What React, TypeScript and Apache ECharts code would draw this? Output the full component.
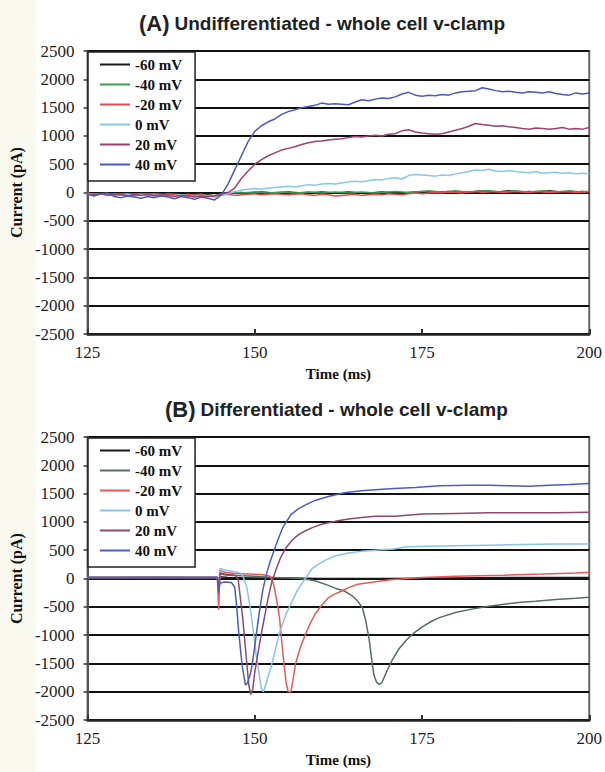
import React, { useEffect, useRef } from "react";
import * as echarts from "echarts";

const seriesNames = ["-60 mV", "-40 mV", "-20 mV", "0 mV", "20 mV", "40 mV"];

// Panel A: sampled every 1 ms from 125 to 200 ms
const timeA: number[] = Array.from({ length: 76 }, (_, i) => 125 + i);

const aMinus60 = [
  -20, -30, -10, -20, -30, -40, -30, -20, -30, -40,
  -30, -20, -30, -40, -50, -30, -40, -50, -40, -60,
  -40, -20, -10, 0, -10, 0, 10, 0, -10, 0,
  10, 0, -10, 0, 0, 10, 0, -10, 0, 10,
  0, -10, -20, 0, 10, 0, 0, -10, 0, 10,
  20, 10, 0, 10, 20, 10, 0, 10, 20, 30,
  20, 10, 20, 30, 20, 10, 20, 10, 20, 30,
  20, 10, 20, 10, 20, 10,
];
const aMinus40 = [
  -30, -20, -20, -30, -40, -30, -20, -30, -40, -30,
  -20, -30, -40, -30, -40, -50, -40, -30, -50, -50,
  -30, -10, 0, -10, 0, 10, 0, -10, 0, 10,
  0, -10, 0, 10, 0, -10, 0, 10, 0, -10,
  0, 10, 0, -10, 0, 10, 20, 10, 0, 10,
  20, 30, 20, 10, 20, 30, 20, 10, 20, 30,
  30, 20, 10, 20, 30, 20, 10, 20, 30, 20,
  10, 20, 30, 20, 10, 20,
];
const aMinus20 = [
  -10, -30, -20, -40, -20, -30, -50, -30, -20, -40,
  -30, -50, -20, -40, -60, -30, -50, -40, -60, -70,
  -40, -30, -50, -40, -30, -20, -40, -30, -20, -30,
  -40, -30, -20, -40, -50, -30, -40, -60, -50, -40,
  -30, -50, -40, -30, -40, -20, -30, -40, -20, -10,
  -20, -10, 0, -10, 10, 0, -10, 10, 20, 0,
  10, 20, 0, 10, 20, 10, 0, 20, 10, 0,
  10, 20, 10, 0, 10, 20,
];
const aZero = [
  -20, -40, -30, -20, -50, -40, -30, -60, -40, -30,
  -50, -40, -60, -50, -40, -60, -70, -50, -60, -80,
  -50, -20, 20, 40, 60, 70, 60, 80, 90, 100,
  110, 100, 120, 140, 130, 150, 160, 150, 170, 190,
  200, 190, 210, 230, 220, 250, 260, 240, 300, 320,
  310, 300, 290, 310, 300, 330, 350, 370, 400, 390,
  410, 380, 370, 390, 370, 360, 350, 370, 340, 350,
  360, 340, 350, 330, 340, 330,
];
const aPlus20 = [
  -30, -40, -20, -50, -40, -30, -60, -40, -50, -30,
  -60, -40, -50, -70, -50, -60, -80, -60, -70, -60,
  -20, 0, 80, 250, 380, 500, 580, 650, 700, 750,
  780, 810, 850, 880, 900, 910, 930, 940, 950, 970,
  990, 980, 1000, 1010, 1000, 1030, 1040, 1090, 1110, 1070,
  1050, 1040, 1030, 1040, 1070, 1100, 1130, 1170, 1220, 1200,
  1190, 1170, 1180, 1160, 1150, 1130, 1120, 1140, 1130, 1120,
  1130, 1150, 1120, 1130, 1120, 1150,
];
const aPlus40 = [
  -30, -60, -20, -10, -70, -90, -60, -80, -100, -70,
  -90, -60, -80, -110, -70, -90, -120, -80, -100, -130,
  -40, 150, 400, 650, 900, 1080, 1180, 1250, 1300, 1380,
  1430, 1460, 1500, 1520, 1540, 1580, 1560, 1570, 1560, 1550,
  1600, 1640, 1620, 1650, 1670, 1660, 1690, 1740, 1770, 1720,
  1700, 1720, 1710, 1730, 1720, 1760, 1780, 1790, 1800, 1850,
  1830, 1800, 1780, 1790, 1770, 1760, 1780, 1770, 1760, 1780,
  1750, 1730, 1720, 1760, 1740, 1760,
];

// Panel B: [time ms, current pA]
const bMinus60: number[][] = [
  [125, 20], [130, 20], [135, 25], [140, 20], [144.4, 20], [144.6, -100], [144.8, 30],
  [146, 20], [150, 10], [155, 10], [160, 0], [170, 0], [180, 10], [190, 20], [200, 20],
];
const bMinus40: number[][] = [
  [125, 20], [144.4, 20], [144.6, -150], [144.8, 80], [146, 60], [150, 40], [153, 20],
  [155, 10], [157, 0], [159, -40], [161, -120], [162, -170], [163.4, -220], [164.5, -300],
  [165.4, -400], [166.1, -520], [166.6, -750], [167.1, -1080], [167.5, -1450], [167.8, -1700],
  [168.2, -1830], [168.6, -1870], [169, -1840], [169.8, -1620], [170.5, -1450], [171.5, -1250],
  [172.7, -1080], [173.7, -970], [175.1, -850], [176.5, -750], [177.6, -690], [180, -600],
  [182.4, -540], [185, -490], [187.5, -450], [189.8, -420], [192, -400], [195, -370],
  [198, -350], [200, -330],
];
const bMinus20: number[][] = [
  [125, 20], [144.4, 20], [144.6, -550], [144.8, 150], [145.5, 110], [147, 90], [149, 80],
  [151, 70], [152.3, 40], [152.8, -100], [153.3, -400], [153.7, -700], [154.1, -1200],
  [154.4, -1550], [154.7, -1850], [155, -2000], [155.4, -2000], [155.7, -1800], [156.1, -1500],
  [156.8, -1220], [157.6, -980], [158.3, -790], [159, -630], [160, -470], [161, -340],
  [162, -270], [163, -220], [164, -160], [165.4, -100], [167.8, -60], [170.3, -20],
  [175, 20], [180, 40], [187.3, 60], [193, 80], [198, 100], [200, 110],
];
const bZero: number[][] = [
  [125, 20], [144.4, 20], [144.6, -150], [144.8, 180], [145.5, 150], [147, 120], [147.8, 100],
  [148.3, 20], [148.8, -150], [149.3, -500], [149.8, -950], [150.2, -1350], [150.6, -1650],
  [151, -1950], [151.3, -2000], [151.7, -1850], [152.5, -1530], [153.1, -1250], [153.7, -950],
  [154.7, -620], [155.7, -370], [156.4, -200], [157.2, -60], [158, 80], [158.6, 180],
  [159.5, 250], [160.5, 320], [162, 400], [164, 450], [165.9, 480], [168, 500], [170.8, 520],
  [172.7, 560], [176, 570], [180, 580], [185, 590], [190, 600], [195, 610], [200, 610],
];
const bPlus20: number[][] = [
  [125, 20], [144.4, 20], [144.6, -250], [144.8, 100], [145.5, 80], [147, 60], [147.5, 0],
  [147.8, -300], [148.2, -700], [148.6, -1230], [149.1, -1880], [149.4, -2050], [149.7, -1950],
  [150, -1650], [150.5, -1300], [151, -960], [151.5, -650], [152, -340], [152.5, -80],
  [153.2, 170], [153.9, 380], [154.7, 550], [155.6, 680], [156.6, 780], [157.5, 840],
  [158.6, 900], [160, 960], [162, 1010], [164, 1050], [166, 1080], [168, 1100], [171, 1100],
  [175, 1140], [180, 1150], [185, 1160], [190, 1160], [195, 1160], [200, 1170],
];
const bPlus40: number[][] = [
  [125, 20], [144.4, 20], [144.6, -200], [144.8, -80], [145.5, -60], [146.5, -70], [147, -150],
  [147.3, -500], [147.6, -950], [148.1, -1530], [148.6, -1880], [148.9, -1850], [149.3, -1700],
  [149.6, -1530], [150.1, -1100], [150.6, -660], [151.2, -200], [151.8, 100], [152.3, 300],
  [152.8, 470], [153.5, 700], [154.2, 905], [155.4, 1130], [156.5, 1230], [157.6, 1300],
  [159, 1380], [161, 1450], [163.4, 1515], [165.9, 1550], [168, 1570], [170.8, 1590],
  [174, 1610], [177.6, 1640], [182, 1650], [185, 1650], [188, 1640], [191, 1630],
  [194, 1650], [197, 1660], [200, 1680],
];

const colorsA = ["#1a1a1a", "#3c9a55", "#e8474d", "#86c8ec", "#a0406e", "#4c58c4"];
const colorsB = ["#1a1a1a", "#55705c", "#e8585c", "#86c4ea", "#8c4a6e", "#4a5cc8"];

const serif = "'Liberation Serif', 'Times New Roman', serif";
const sans = "'Liberation Sans', Arial, sans-serif";

function buildOption(tag: string, titleText: string, titleLeft: number, data: number[][][], colors: string[]) {
  return {
    animation: false,
    backgroundColor: "#ffffff",
    graphic: [
      {
        type: "rect",
        silent: true,
        z: -10,
        shape: { x: 0, y: 0, width: 36, height: 386 },
        style: { fill: "#f9f9ef" },
      },
    ],
    title: {
      text: `{a|${tag}} {b|${titleText}}`,
      left: titleLeft,
      top: 7,
      textStyle: {
        rich: {
          a: { fontFamily: sans, fontSize: 22, color: "#222" },
          b: { fontFamily: sans, fontSize: 19, fontWeight: "bold", color: "#222" },
        },
      },
    },
    legend: {
      orient: "vertical",
      left: 88,
      top: 52,
      icon: "rect",
      itemWidth: 30,
      itemHeight: 2,
      itemGap: 5,
      padding: [5, 13, 9, 12],
      backgroundColor: "#ffffff",
      borderColor: "#222",
      borderWidth: 1.5,
      textStyle: { fontFamily: serif, fontWeight: "bold", fontSize: 15, lineHeight: 15, color: "#111" },
      data: seriesNames,
    },
    grid: {
      left: 87,
      right: 5,
      top: 51,
      height: 290,
      show: true,
      borderColor: "#666",
      borderWidth: 2,
    },
    xAxis: {
      type: "value",
      min: 125,
      max: 200,
      interval: 25,
      name: "Time (ms)",
      nameLocation: "middle",
      nameGap: 30,
      nameTextStyle: { fontFamily: serif, fontWeight: "bold", fontSize: 15, color: "#111" },
      axisLine: { show: true, onZero: false, lineStyle: { color: "#222", width: 2.5 } },
      axisTick: { show: true, inside: true, length: 5, lineStyle: { color: "#333", width: 2 } },
      axisLabel: { margin: 10, fontFamily: serif, fontSize: 17, color: "#222", formatter: (v: number) => String(v) },
      splitLine: { show: false },
    },
    yAxis: {
      type: "value",
      min: -2500,
      max: 2500,
      interval: 500,
      name: "Current (pA)",
      nameLocation: "middle",
      nameRotate: 90,
      nameGap: 60,
      nameTextStyle: { fontFamily: serif, fontWeight: "bold", fontSize: 16, color: "#111" },
      axisLine: { show: true, onZero: false, lineStyle: { color: "#555", width: 2 } },
      axisTick: { show: true, length: 4, lineStyle: { color: "#333", width: 1.5 } },
      axisLabel: { margin: 13, fontFamily: serif, fontSize: 17, color: "#222", formatter: (v: number) => String(v) },
      splitLine: { show: true, lineStyle: { color: "#111", width: 1.8 } },
    },
    series: seriesNames.map((name, i) => ({
      name,
      type: "line",
      data: data[i],
      symbol: "none",
      showSymbol: false,
      lineStyle: { color: colors[i], width: 1.5 },
      itemStyle: { color: colors[i] },
    })),
  };
}

function Panel({ option }: { option: any }) {
  const ref = useRef<HTMLDivElement>(null);
  useEffect(() => {
    const chart = echarts.init(ref.current as HTMLDivElement, undefined, { renderer: "svg" });
    chart.setOption(option);
    return () => chart.dispose();
  }, [option]);
  return <div ref={ref} style={{ width: 605, height: 386 }} />;
}

const dataA = [aMinus60, aMinus40, aMinus20, aZero, aPlus20, aPlus40].map((vals) =>
  timeA.map((t, i) => [t, vals[i]])
);
const dataB = [bMinus60, bMinus40, bMinus20, bZero, bPlus20, bPlus40];

const optionA = buildOption("(A)", "Undifferentiated - whole cell v-clamp", 134, dataA, colorsA);
const optionB = buildOption("(B)", "Differentiated - whole cell v-clamp", 160, dataB, colorsB);

export default function App() {
  return (
    <div style={{ position: "absolute", left: 0, top: 0, width: 605, height: 772, background: "#fff" }}>
      <Panel option={optionA} />
      <Panel option={optionB} />
    </div>
  );
}
